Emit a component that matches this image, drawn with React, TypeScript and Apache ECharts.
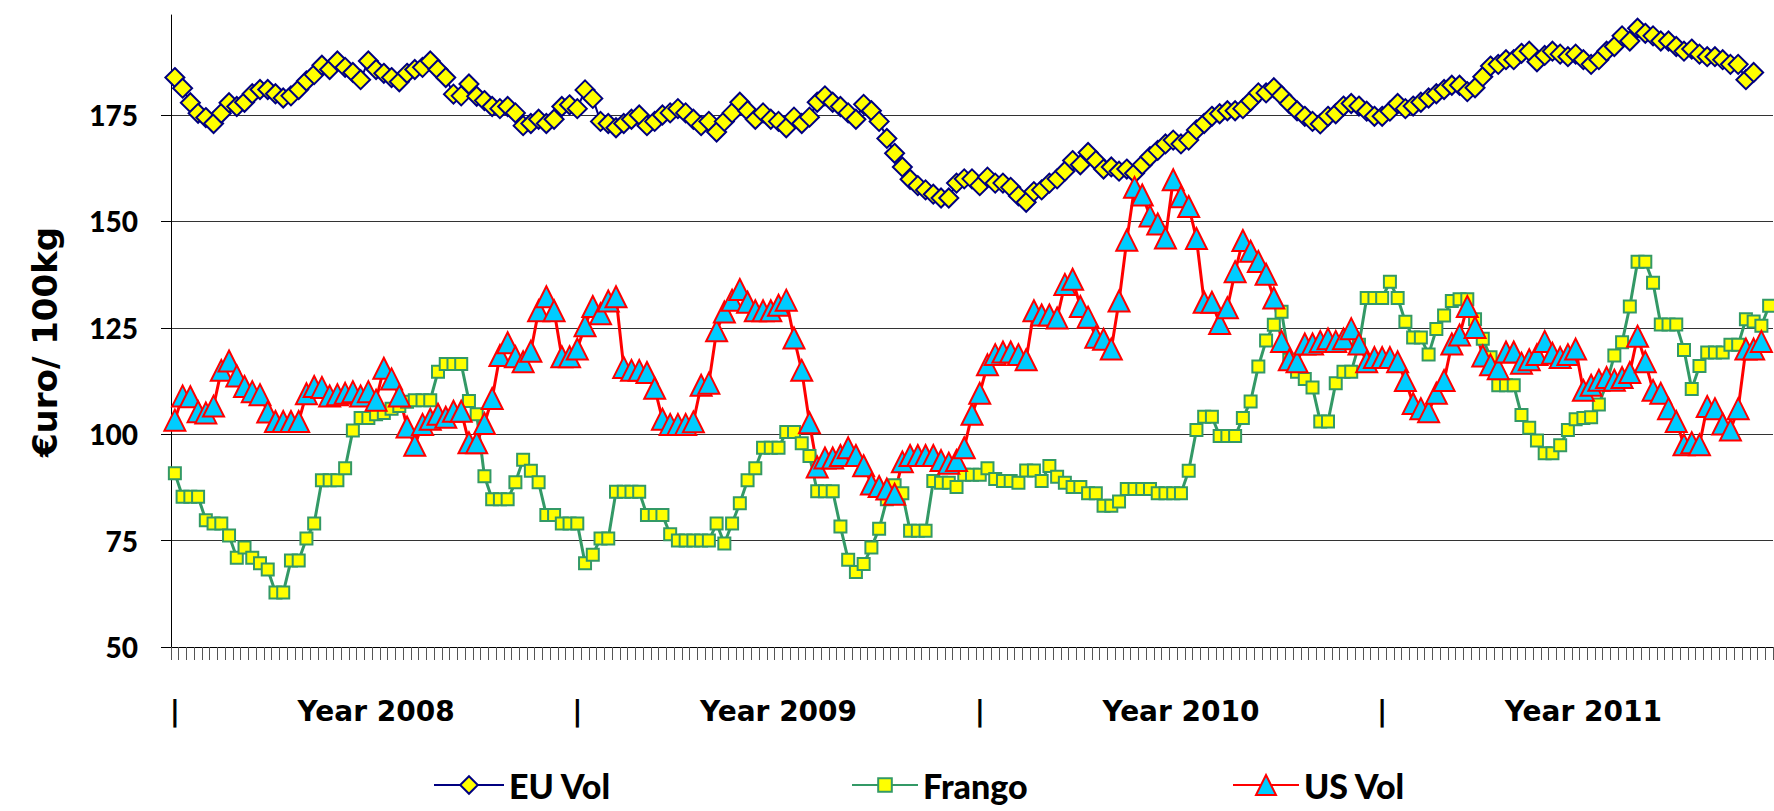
import React, { useEffect, useRef } from 'react';
import * as echarts from 'echarts';

// Weekly categories (Jan 2008 .. end 2011)
const weekCount = 207;
const weeks: string[] = Array.from({ length: weekCount }, (_, i) => `W${i + 1}`);

// Category labels shown under the axis (by category index)
const labelIndex = [0, 26, 52, 78, 104, 130, 156, 182];
const labelText = ['|', 'Year 2008', '|', 'Year 2009', '|', 'Year 2010', '|', 'Year 2011'];

const yTicks = [50, 75, 100, 125, 150, 175];
const yTitle = '€uro/ 100kg';

const euVol = [
  183.8, 181.3, 177.9, 175.4, 174.4, 173, 175.4, 177.9, 177, 178,
  180, 181, 181, 180, 179, 179.5, 181, 183, 184.5, 186.7,
  185.7, 187.7, 186.2, 185, 183.3, 187.7, 185.7, 184.8, 183.8, 182.8,
  184.8, 185.7, 186.2, 187.7, 185.7, 183.8, 179.9, 179.5, 182.3, 179.4,
  178.4, 177, 176.5, 177, 175.5, 172.5, 173, 174, 173, 174,
  177, 177.4, 176.5, 180.9, 178.9, 173.5, 173, 172, 173, 174,
  175, 172.5, 173.5, 175, 175.5, 176.5, 175.5, 174, 172.5, 173.5,
  171, 173.5, 175.5, 178, 176, 174, 175.5, 174, 173.5, 172,
  174.5, 173, 174.5, 178, 179.5, 178, 177, 175.5, 174, 177.5,
  176, 173.5, 169.5, 166, 162.8, 159.9, 158.4, 157.4, 156.4, 155.5,
  155.5, 159, 160, 160, 158.4, 160.4, 159, 159, 158, 156,
  154.5, 157, 157.4, 159, 160, 161.8, 164.3, 163.3, 166.2, 164.3,
  162.3, 162.8, 161.8, 162.3, 161.3, 163.3, 165.2, 166.7, 168.2, 169.1,
  168.2, 169.1, 171.5, 173, 174.7, 175.3, 176, 176, 176.5, 178.3,
  180.2, 180.2, 181.4, 179.6, 177.7, 176, 174.7, 173.5, 172.9, 174.7,
  175.3, 177.1, 177.7, 177.1, 175.9, 174.7, 174.7, 175.9, 177.7, 176.5,
  177.1, 178, 179, 180, 181, 182, 182, 180.5, 181.4, 184,
  186.5, 186.9, 188, 188, 189.5, 190, 187.5, 189, 190, 189.3,
  188.7, 189.3, 188, 186.9, 188, 190, 191.1, 193.6, 192.4, 195.4,
  194.2, 193.6, 192.4, 192.4, 191.1, 190, 190.5, 189.3, 188.7, 188.7,
  188, 186.9, 186.9, 183.3, 185,
];

const frango = [
  90.8, 85.3, 85.3, 85.3, 79.8, 79, 79, 76.2, 71, 73.4,
  71, 69.7, 68.2, 62.8, 62.8, 70.3, 70.3, 75.5, 79, 89.2,
  89.2, 89.2, 92, 100.9, 103.8, 103.8, 104.7, 105, 106, 106.6,
  107.6, 108, 108, 108, 114.7, 116.5, 116.5, 116.5, 107.8, 104.7,
  90.1, 84.7, 84.7, 84.7, 88.7, 94, 91.4, 88.7, 81, 81,
  79, 79, 79, 69.7, 71.7, 75.5, 75.5, 86.5, 86.5, 86.5,
  86.5, 81, 81, 81, 76.5, 75, 75, 75, 75, 75,
  79, 74.3, 79, 83.8, 89.2, 92, 96.8, 96.8, 96.8, 100.5,
  100.5, 97.9, 94.9, 86.6, 86.6, 86.6, 78.3, 70.5, 67.6, 69.5,
  73.4, 77.8, 84.7, 88, 86.1, 77.3, 77.3, 77.3, 89, 88.6,
  88.6, 87.6, 90.5, 90.5, 90.5, 92, 89.5, 89, 89, 88.6,
  91.5, 91.5, 89, 92.5, 90, 88.6, 87.6, 87.6, 86.1, 86.1,
  83.2, 83.2, 84.2, 87.1, 87.1, 87.1, 87.1, 86.1, 86.1, 86.1,
  86.1, 91.4, 101, 104.1, 104.1, 99.6, 99.6, 99.6, 103.8, 107.7,
  115.9, 122, 125.7, 128.8, 117.5, 114.7, 113, 111, 103, 103,
  112, 114.7, 114.7, 121, 132, 132, 132, 135.8, 132, 126.4,
  122.7, 122.7, 118.7, 124.7, 127.9, 131.3, 131.7, 131.7, 127, 122.4,
  118.1, 111.5, 111.5, 111.5, 104.5, 101.5, 98.5, 95.5, 95.5, 97.4,
  101, 103.5, 103.8, 104, 107, 112, 118.5, 121.6, 130, 140.5,
  140.5, 135.6, 125.8, 125.8, 125.8, 119.8, 110.6, 116, 119.2, 119.2,
  119.2, 121, 121, 127, 126.5, 125.5, 130.2,
];

const usVol = [
  103.3, 109, 108.8, 105.3, 105, 106.6, 115, 117.2, 113.7, 111.2,
  110, 109.3, 105.2, 103, 103, 103, 103, 109.5, 111.2, 111,
  109, 109.3, 109.6, 110, 109, 110, 108, 115.5, 113, 109,
  101.7, 97.4, 102.3, 103.5, 104.7, 104, 105.4, 105.4, 98, 98,
  102.5, 108.4, 118.5, 121.5, 118.2, 117, 119.5, 129, 132.3, 129,
  118.2, 118.2, 120, 125.5, 130, 128.3, 131.3, 132.3, 115.7, 115,
  115, 114.5, 110.8, 103.5, 102.3, 102.3, 102.3, 102.9, 111.5, 112,
  124.3, 128.7, 131.5, 134, 131, 129, 129, 129, 130.3, 131.5,
  122.6, 115, 102.7, 92.3, 94.4, 94.4, 95, 96.8, 95, 92.6,
  88.3, 87.7, 87.1, 85.9, 93.5, 95, 95, 95, 95, 93.8,
  93.2, 93.8, 96.8, 104.7, 109.6, 116.3, 118.7, 119.3, 119.3, 118.7,
  117.5, 129, 128, 128, 127.3, 135.2, 136.4, 130, 127.5, 122.8,
  122.3, 120, 131.3, 145.6, 158, 156.2, 151.3, 149.4, 146.1, 159.8,
  155.8, 153.5, 146, 131, 131, 126, 129.7, 138.2, 145.5, 143,
  140.6, 137.6, 132, 121.8, 117.5, 117, 121.2, 121.2, 121.8, 122.4,
  121.8, 122.4, 124.8, 121.2, 117, 118, 118, 118, 117, 112.6,
  107.2, 106, 105.3, 109.6, 112.6, 121.2, 123.3, 130, 125.1, 118.4,
  116.3, 115.4, 119.3, 119.3, 116.7, 117.5, 118.7, 121.8, 119, 118,
  118.7, 120, 110.3, 111.5, 112.7, 113.3, 112.7, 113.3, 114.5, 123,
  117, 110.3, 109.6, 106, 103, 97.5, 98, 97.5, 106.5, 106,
  102.4, 101, 106, 120, 120, 121.8,
];

const LATO = 'Lato';
const DEJAVU = '"DejaVu Sans"';

export default function App() {
  const ref = useRef<HTMLDivElement>(null);

  useEffect(() => {
    document.body.style.margin = '0';
    if (!ref.current) return;
    const chart = echarts.init(ref.current, null, { renderer: 'svg' });

    const legendText = {
      fontFamily: LATO,
      fontWeight: 900,
      fontSize: 34,
      color: '#000',
    };

    const option: any = {
      animation: false,
      backgroundColor: '#ffffff',
      grid: { left: 171, right: 1, top: 15, bottom: 164, containLabel: false },
      xAxis: {
        type: 'category',
        data: weeks,
        boundaryGap: true,
        axisLine: { show: true, lineStyle: { color: '#000', width: 1 } },
        axisTick: { show: true, interval: 0, length: 13, lineStyle: { color: '#555', width: 1 } },
        axisLabel: {
          interval: 0,
          margin: 50,
          fontSize: 28,
          fontFamily: DEJAVU,
          fontWeight: 'bold',
          color: '#000',
          formatter: (_v: string, idx: number) => {
            const k = labelIndex.indexOf(idx);
            return k >= 0 ? labelText[k] : '';
          },
        },
        splitLine: { show: false },
      },
      yAxis: {
        type: 'value',
        min: 50,
        max: 198.5,
        interval: 25,
        axisLine: { show: true, lineStyle: { color: '#000', width: 1 } },
        axisTick: { show: true, length: 10, lineStyle: { color: '#000' }, customValues: yTicks },
        axisLabel: {
          margin: 33,
          fontSize: 28,
          customValues: yTicks,
          fontFamily: LATO,
          fontWeight: 900,
          color: '#000',
        },
        splitLine: { show: true, lineStyle: { color: '#333', width: 1 } },
      },
      graphic: [
        {
          type: 'text',
          x: 45,
          y: 342,
          rotation: Math.PI / 2,
          style: {
            text: yTitle,
            fontFamily: DEJAVU,
            fontWeight: 'bold',
            fontSize: 34,
            fill: '#000',
            align: 'center',
            verticalAlign: 'middle',
          },
        },
      ],
      legend: [
        {
          data: ['EU Vol'], left: 428, top: 763, itemWidth: 70, itemHeight: 22, selectedMode: false,
          textStyle: legendText,
        },
        {
          data: ['Frango'], left: 846, top: 763, itemWidth: 66, itemHeight: 17, selectedMode: false,
          textStyle: legendText,
        },
        {
          data: ['US Vol'], left: 1227, top: 763, itemWidth: 66, itemHeight: 25, selectedMode: false,
          textStyle: legendText,
        },
      ],
      series: [
        {
          name: 'EU Vol',
          type: 'line',
          data: euVol,
          symbol: 'diamond',
          symbolSize: 19,
          showAllSymbol: true,
          lineStyle: { color: '#000080', width: 2 },
          itemStyle: { color: '#FFFF00', borderColor: '#000080', borderWidth: 2 },
        },
        {
          name: 'Frango',
          type: 'line',
          data: frango,
          symbol: 'rect',
          symbolSize: 12,
          showAllSymbol: true,
          lineStyle: { color: '#339966', width: 3 },
          itemStyle: { color: '#FFFF00', borderColor: '#339966', borderWidth: 2 },
        },
        {
          name: 'US Vol',
          type: 'line',
          data: usVol,
          symbol: 'triangle',
          symbolSize: 21,
          showAllSymbol: true,
          lineStyle: { color: '#FF0000', width: 3 },
          itemStyle: { color: '#00CCFF', borderColor: '#FF0000', borderWidth: 2 },
        },
      ],
    };

    chart.setOption(option);
    return () => chart.dispose();
  }, []);

  return (
    <div
      ref={ref}
      style={{ position: 'fixed', left: 0, top: 0, width: 1774, height: 811, background: '#fff' }}
    />
  );
}
